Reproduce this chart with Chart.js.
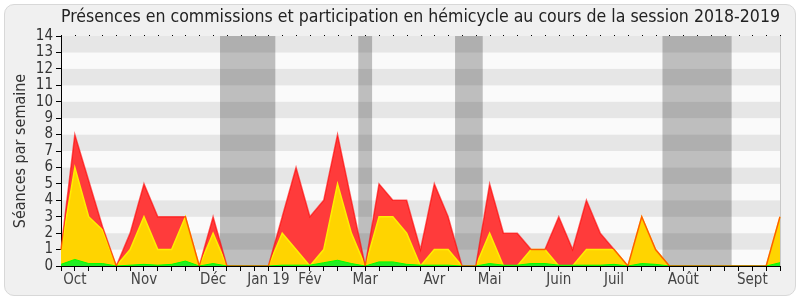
<!DOCTYPE html>
<html>
<head>
<meta charset="utf-8">
<script src="https://cdn.jsdelivr.net/npm/chart.js@4.4.1/dist/chart.umd.min.js"></script>
<style>
  html, body { margin: 0; padding: 0; background: #ffffff; }
  #cadre { position: absolute; left: 4px; top: 4px; width: 790px; height: 290px;
           background: #f0f0f0; border: 1px solid #d8d8d8; border-radius: 10px; }
  #graph { position: absolute; left: 0; top: 0; }
</style>
</head>
<body>
<div id="cadre"></div>
<canvas id="graph" width="800" height="300"></canvas>
<script>
// une entrée par semaine, d'octobre 2018 à septembre 2019
var semaines = ["", "Oct", "", "", "", "", "Nov", "", "", "", "", "Déc", "", "", "", "Jan 19", "", "", "Fév", "", "",
    "", "Mar", "", "", "", "", "Avr", "", "", "", "Mai", "", "", "", "", "Juin", "", "", "", "Juil", "", "", "", "",
    "Août", "", "", "", "", "Sept", "", ""];

// total des présences (rouge)
var presences = [1, 8, 5.2, 2.4, 0, 2, 5, 3, 3, 3, 0, 3, 0, 0, 0, 0, 3, 6, 3, 4, 8, 4, 0, 5, 4, 4, 1, 5, 3, 0,
    0, 5, 2, 2, 1, 1, 3, 1, 4, 2, 1, 0, 3, 1, 0, 0, 0, 0, 0, 0, 0, 0, 3];
// présences en commission (jaune)
var commissions = [1, 6, 3, 2.2, 0, 1, 3, 1, 1, 3, 0, 2, 0, 0, 0, 0, 2, 1, 0, 1, 5, 2, 0, 3, 3, 2, 0, 1, 1, 0,
    0, 2, 0, 0, 1, 1, 0, 0, 1, 1, 1, 0, 3, 1, 0, 0, 0, 0, 0, 0, 0, 0, 3];
// participation en hémicycle (vert)
var hemicycle = [0.1, 0.4, 0.15, 0.15, 0, 0.05, 0.1, 0.05, 0.1, 0.3, 0, 0.15, 0, 0, 0, 0, 0.05, 0.05, 0.05, 0.2,
    0.35, 0.15, 0, 0.25, 0.25, 0.1, 0.05, 0.05, 0.05, 0, 0, 0.15, 0.05, 0.05, 0.15, 0.15, 0.05, 0.05, 0.05, 0.05,
    0.1, 0, 0.15, 0.1, 0, 0, 0, 0, 0, 0, 0, 0, 0.2];

// vacances parlementaires (en semaines)
var vacances = [[11.5, 15.5], [21.5, 22.5], [28.5, 30.5], [43.5, 48.5]];

var police = "'DejaVu Sans Condensed', 'DejaVu Sans', sans-serif";

var fond = {
    id: 'fond',
    beforeDraw: function (chart) {
        var ctx = chart.ctx, a = chart.chartArea, x = chart.scales.x, y = chart.scales.y;
        ctx.save();
        for (var k = 0; k < 14; k++) {
            var haut = y.getPixelForValue(k + 1), bas = y.getPixelForValue(k);
            ctx.fillStyle = (k % 2) ? '#e6e6e6' : '#fafafa';
            ctx.fillRect(a.left, haut, a.right - a.left, bas - haut);
        }
        ctx.fillStyle = 'rgba(0,0,0,0.24)';
        vacances.forEach(function (v) {
            var x0 = x.getPixelForValue(v[0]), x1 = x.getPixelForValue(v[1]);
            ctx.fillRect(x0, a.top, x1 - x0, a.bottom - a.top);
        });
        ctx.fillStyle = '#000';
        for (var i = 0; i < semaines.length; i++) {
            ctx.fillRect(Math.round(x.getPixelForValue(i)), a.top - 1, 1, 1);
        }
        ctx.strokeStyle = '#c8c8c8';
        ctx.lineWidth = 1;
        ctx.beginPath();
        ctx.moveTo(a.right + 0.5, a.top);
        ctx.lineTo(a.right + 0.5, a.bottom);
        ctx.stroke();
        ctx.restore();
    }
};

new Chart(document.getElementById("graph").getContext("2d"), {
    type: 'line',
    data: {
        labels: semaines,
        datasets: [{
            label: "Participation en hémicycle",
            data: hemicycle,
            backgroundColor: '#22ee22',
            borderColor: '#00ff00',
            borderWidth: 1,
            fill: 'origin',
            pointRadius: 0,
            order: 0
        }, {
            label: "Présences en commission",
            data: commissions,
            backgroundColor: '#ffd400',
            borderColor: '#ffee00',
            borderWidth: 1.5,
            fill: 'origin',
            pointRadius: 0,
            order: 1
        }, {
            label: "Présences",
            data: presences,
            backgroundColor: '#ff3b3b',
            borderWidth: 0,
            fill: 'origin',
            pointRadius: 0,
            order: 2
        }, {
            label: "Présences (ligne)",
            data: presences,
            borderColor: 'rgba(255,0,0,0.6)',
            borderWidth: 1.5,
            fill: false,
            pointRadius: 0,
            order: -1
        }]
    },
    options: {
        responsive: false,
        animation: false,
        devicePixelRatio: 1,
        layout: { padding: { left: 0, right: 20, top: 0, bottom: 0 } },
        plugins: {
            legend: { display: false },
            tooltip: { enabled: false },
            title: {
                display: true,
                fullSize: false,
                text: "Présences en commissions et participation en hémicycle au cours de la session 2018-2019",
                color: '#222',
                font: { family: police, size: 18, weight: 'normal' },
                padding: { top: 7, bottom: 7.4 }
            }
        },
        scales: {
            x: {
                grid: { drawOnChartArea: false, tickLength: 5, color: '#000' },
                border: { color: '#000' },
                ticks: { autoSkip: false, maxRotation: 0, minRotation: 0, padding: 0, color: '#444', font: { family: police, size: 15 } },
                afterFit: function (s) { s.height = 34; }
            },
            y: {
                min: 0,
                max: 14,
                grid: { drawOnChartArea: false, tickLength: 5, color: '#000' },
                border: { color: '#000' },
                ticks: { stepSize: 1, autoSkip: false, padding: 3, color: '#333', font: { family: police, size: 15 } },
                title: { display: true, text: "Séances par semaine", color: '#333', font: { family: police, size: 16 }, padding: { top: 11, bottom: 0 } },
                afterFit: function (s) { s.width = 61; }
            }
        }
    },
    plugins: [fond]
});
</script>
</body>
</html>
